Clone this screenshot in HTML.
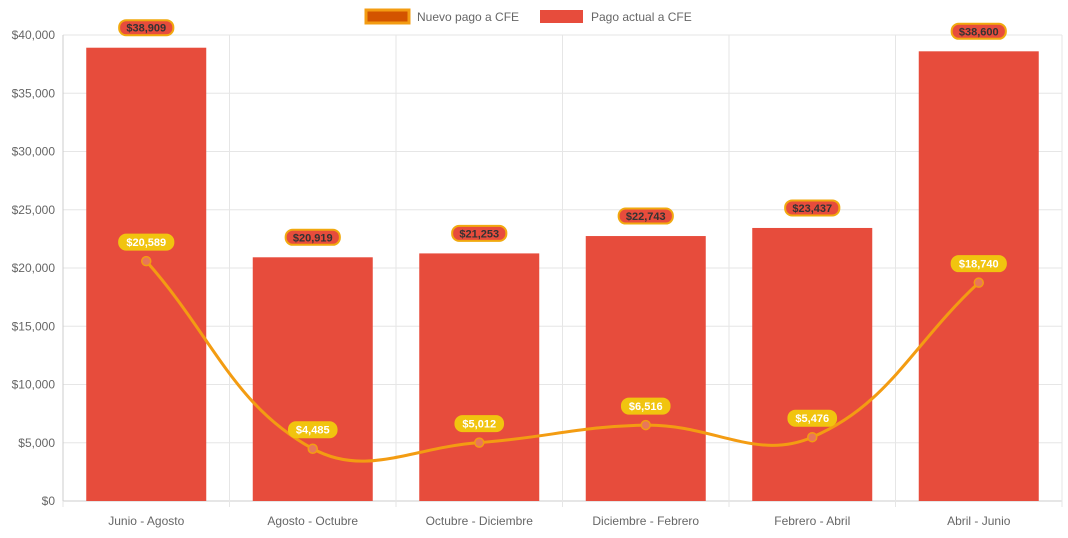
<!DOCTYPE html>
<html><head><meta charset="utf-8"><style>
body{margin:0;background:#fff;font-family:"Liberation Sans",Arial,sans-serif}
svg text{font-family:"Liberation Sans",Arial,sans-serif}
</style></head><body>
<svg id="c" width="1068" height="533" xmlns="http://www.w3.org/2000/svg"></svg>
<script>
const categories=["Junio - Agosto","Agosto - Octubre","Octubre - Diciembre","Diciembre - Febrero","Febrero - Abril","Abril - Junio"];
const actualValues=[38909,20919,21253,22743,23437,38600];
const newValues=[20589,4485,5012,6516,5476,18740];
const yTicks=[0,5000,10000,15000,20000,25000,30000,35000,40000];
const NS="http://www.w3.org/2000/svg";
const svg=document.getElementById('c');
const L=63,R=1062,T=35,B=501,yMax=40000;
const bw=(R-L)/categories.length;
const y=v=>B-v/yMax*(B-T);
const xc=i=>L+bw*(i+0.5);
const fmt=v=>'$'+v.toLocaleString('en-US');
function el(tag,a,p){const e=document.createElementNS(NS,tag);for(const k in a)e.setAttribute(k,a[k]);(p||svg).appendChild(e);return e;}
// grid
yTicks.forEach(t=>{
 const g=el('line',{x1:L,x2:R,y1:y(t),y2:y(t),stroke:t===0?'#ccc':'#e6e6e6','stroke-width':1});
 
 
 const tx=el('text',{x:L-8,y:y(t)+4,'text-anchor':'end','font-size':12,fill:'#666'});
 tx.textContent=fmt(t);
 
 
});
for(let i=0;i<=categories.length;i++){
 const v=el('line',{x1:L+bw*i,x2:L+bw*i,y1:T,y2:B+6,stroke:'#e6e6e6'});
 
 
}
el('line',{x1:L,x2:L,y1:T,y2:B,stroke:'#ccc'});
categories.forEach((c,i)=>{
 const tx=el('text',{x:xc(i),y:525,'text-anchor':'middle','font-size':12,fill:'#666'});
 tx.textContent=c;
 
 
});
// bars
const barW=120;
actualValues.forEach((v,i)=>{
 const r=el('rect',{x:xc(i)-barW/2,y:y(v),width:barW,height:B-y(v),fill:'#e74c3c'});
 
 
});
// line spline (chart.js tension 0.4)
const pts=newValues.map((v,i)=>({x:xc(i),y:y(v)}));
const tension=0.4;
const cps=pts.map((p,i)=>{
 const prev=pts[i-1]||p,next=pts[i+1]||p;
 const d01=Math.hypot(p.x-prev.x,p.y-prev.y),d12=Math.hypot(next.x-p.x,next.y-p.y);
 let fa=d01/(d01+d12)||0,fb=d12/(d01+d12)||0;
 fa*=tension;fb*=tension;
 return {px:p.x-fa*(next.x-prev.x),py:p.y-fa*(next.y-prev.y),nx:p.x+fb*(next.x-prev.x),ny:p.y+fb*(next.y-prev.y)};
});
let d='M'+pts[0].x+','+pts[0].y;
for(let i=1;i<pts.length;i++)d+=` C${cps[i-1].nx},${cps[i-1].ny} ${cps[i].px},${cps[i].py} ${pts[i].x},${pts[i].y}`;
const ln=el('path',{d,fill:'none',stroke:'#f39c12','stroke-width':3});


pts.forEach((p,i)=>{
 const c=el('circle',{cx:p.x,cy:p.y,r:4.5,fill:'#e8765a',stroke:'#f39c12','stroke-width':1.5});
 
 
});
function label(txt,cx,cy,bg,border,color,name){
 const w=txt.length*6.6+8;
 const g=el('g',{});
 
 
 el('rect',{x:cx-w/2,y:cy-7.5,width:w,height:15,rx:7,fill:bg,stroke:border,'stroke-width':2},g);
 const t=el('text',{x:cx,y:cy+4,'text-anchor':'middle','font-size':11,'font-weight':'bold',fill:color},g);
 t.textContent=txt;
}
actualValues.forEach((v,i)=>label(fmt(v),xc(i),y(v)-20,'#e74c3c','#f1a90f','#333','bar-value-label'));
newValues.forEach((v,i)=>label(fmt(v),pts[i].x,pts[i].y-19,'#f1c40f','#f1c40f','#fff','line-value-label'));
// legend
const lg=el('g',{});


const le1=el('g',{},lg);


el('rect',{x:366,y:10,width:43,height:13,fill:'#d35400',stroke:'#f39c12','stroke-width':3},le1);
const t1=el('text',{x:417,y:21,'font-size':12,fill:'#666'},le1);t1.textContent='Nuevo pago a CFE';
const le2=el('g',{},lg);


el('rect',{x:540,y:10,width:43,height:13,fill:'#e74c3c'},le2);
const t2=el('text',{x:591,y:21,'font-size':12,fill:'#666'},le2);t2.textContent='Pago actual a CFE';
</script>
</body></html>
